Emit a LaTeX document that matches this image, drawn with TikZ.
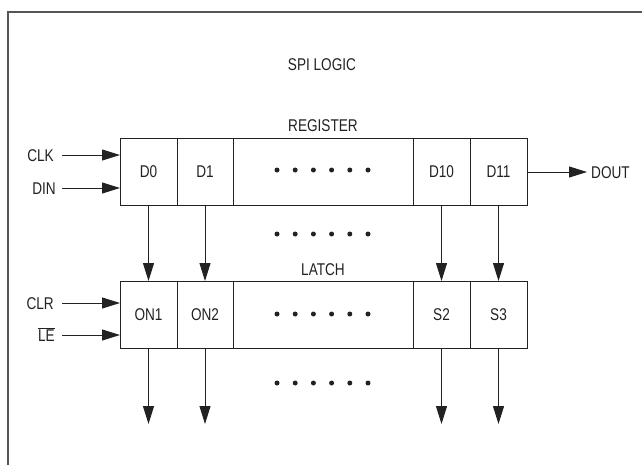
\documentclass[tikz,border=0pt]{standalone}
\usepackage{fontspec}
\setmainfont{Liberation Sans}[FakeStretch=0.8]
\usetikzlibrary{positioning,arrows.meta}
\definecolor{ink}{HTML}{222222}
\definecolor{rim}{HTML}{555555}
\tikzset{
  cell/.style={draw=ink, line width=1pt, outer sep=0pt, inner sep=0pt,
    minimum height=67pt, text=ink, text height=12pt, text depth=0pt},
  lbl/.style={text=ink, inner sep=0pt, text height=12pt, text depth=0pt},
  sig/.style={->, draw=ink, line width=1pt},
}
\begin{document}
\begin{tikzpicture}[>={Triangle[length=18pt,width=11pt]}, x=1pt, y=-1pt,
    font=\fontsize{17}{20}\selectfont]
  \useasboundingbox (0,0) rectangle (642,464);
  % frame
  \draw[rim, line width=2pt] (8,466) -- (8,12) -- (644,12);
  \node[lbl] (spi) at (322,64) {SPI LOGIC};
  % register
  \node[cell, minimum width=57pt] (d0) at (148.5,171.5) {D0};
  \node[cell, minimum width=56pt, right=0pt of d0] (d1) {D1};
  \node[cell, minimum width=180pt, right=0pt of d1] (regdots) {};
  \node[cell, minimum width=57pt, right=0pt of regdots] (d10) {D10};
  \node[cell, minimum width=57pt, right=0pt of d10] (d11) {D11};
  \node[lbl, above=6pt of regdots] (reg) {REGISTER};
  % latch
  \node[cell, minimum width=57pt] (on1) at (148.5,314.5) {ON1};
  \node[cell, minimum width=56pt, right=0pt of on1] (on2) {ON2};
  \node[cell, minimum width=180pt, right=0pt of on2] (latdots) {};
  \node[cell, minimum width=57pt, right=0pt of latdots] (s2) {S2};
  \node[cell, minimum width=57pt, right=0pt of s2] (s3) {S3};
  \node[lbl, above=5pt of latdots] (lat) {LATCH};
  % dots
  \foreach \y in {170,234,314,383}
    \foreach \i in {0,...,5}
      \fill[ink] (322.5+18.2*\i-45.5,\y) circle (2.5pt);
  % inputs
  \node[lbl, anchor=east] (clk) at (54,155) {CLK};
  \node[lbl, anchor=east] (din) at (56,188) {DIN};
  \node[lbl, anchor=east] (clr) at (54,303) {CLR};
  \node[lbl, anchor=east] (le) at (55,335) {$\overline{\mbox{LE}}$};
  \foreach \n/\b in {clk/d0, din/d0, clr/on1, le/on1}
    \draw[sig] (62,0 |- \n) -- (\n -| \b.west);
  % output
  \node[lbl, anchor=west] (dout) at (591,172) {DOUT};
  \draw[sig] (d11.east |- dout) -- ([xshift=-4pt]dout.west);
  % register to latch
  \draw[sig] (d0) -- (on1);
  \draw[sig] (d1) -- (on2);
  \draw[sig] (d10) -- (s2);
  \draw[sig] (d11) -- (s3);
  % latch outputs
  \foreach \n in {on1,on2,s2,s3}
    \draw[sig] (\n.south) -- ++(0,76);
\end{tikzpicture}
\end{document}
